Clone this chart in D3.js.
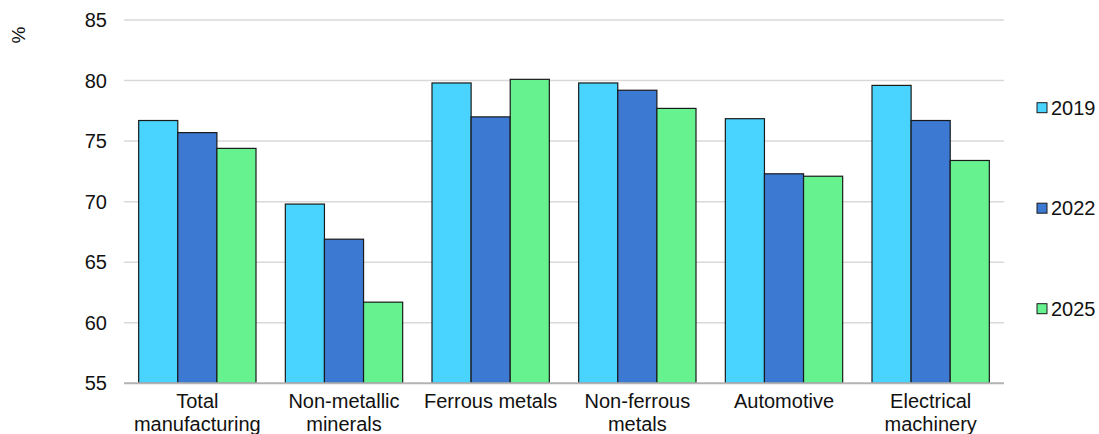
<!DOCTYPE html>
<html><head><meta charset="utf-8">
<script src="https://cdn.jsdelivr.net/npm/d3@7"></script>
<style>body{margin:0;background:#fff}svg{display:block;font-family:"Liberation Sans",Arial,sans-serif}</style>
</head><body><svg id="c" width="1099" height="434"></svg>
<script>
const categories = [["Total","manufacturing"],["Non-metallic","minerals"],["Ferrous metals"],["Non-ferrous","metals"],["Automotive"],["Electrical","machinery"]];
const seriesNames = ["2019","2022","2025"];
const v2019 = [76.7, 69.8, 79.8, 79.8, 76.85, 79.6];
const v2022 = [75.7, 66.9, 77.0, 79.2, 72.3, 76.7];
const v2025 = [74.4, 61.7, 80.1, 77.7, 72.1, 73.4];
const yTicks = [55,60,65,70,75,80,85];
const colors = ["#48D4FF","#3B79D2","#66F28F"];

const svg = d3.select("#c");
const L=124, R=1004, T=20, B=383.3;
const keys = categories.map((c,i)=>i);
const x = d3.scaleBand().domain(keys).range([L,R]).paddingInner(0.2).paddingOuter(0.1);
const xs = d3.scaleBand().domain(seriesNames).range([0,x.bandwidth()]);
const y = d3.scaleLinear().domain([55,85]).range([B,T]);
const values = [v2019,v2022,v2025];

// gridlines
svg.append("g").selectAll("line").data(yTicks.filter(t=>t>55)).join("line")
  .attr("x1",L).attr("x2",R).attr("y1",d=>y(d)).attr("y2",d=>y(d))
  .attr("stroke","#d9d9d9").attr("stroke-width",1.5);

// y labels
svg.append("g").selectAll("text").data(yTicks).join("text")
  .attr("x",107).attr("y",d=>y(d)+7).attr("text-anchor","end")
  .attr("font-size",20).attr("fill","#111").text(d=>d);

// bars
seriesNames.forEach((s,si)=>{
  svg.append("g").selectAll("rect").data(values[si]).join("rect")
    .attr("x",(d,i)=>x(i)+xs(s)).attr("width",xs.bandwidth())
    .attr("y",d=>y(d)).attr("height",d=>B-y(d))
    .attr("fill",colors[si]).attr("stroke","#1a1a1a").attr("stroke-width",1.2);
});

// baseline
svg.append("line").attr("x1",L).attr("x2",R).attr("y1",B).attr("y2",B)
  .attr("stroke","#b3b3b3").attr("stroke-width",2);

// x labels
const xl = svg.append("g").selectAll("text").data(categories).join("text")
  .attr("text-anchor","middle").attr("font-size",20).attr("fill","#111")
  .attr("transform",(d,i)=>`translate(${x(i)+x.bandwidth()/2},408)`);
xl.selectAll("tspan").data(d=>d).join("tspan")
  .attr("x",0).attr("dy",(d,j)=>j?23:0).text(d=>d);

// y unit
svg.append("text").attr("transform","translate(25,35) rotate(-90)")
  .attr("text-anchor","middle").attr("font-size",19).attr("fill","#111").text("%");

// legend
const lg = svg.append("g").selectAll("g").data(seriesNames).join("g")
  .attr("transform",(d,i)=>`translate(1037,${102.7+i*100.5})`);
lg.append("rect").attr("width",10).attr("height",10)
  .attr("fill",(d,i)=>colors[i]).attr("stroke","#1a1a1a").attr("stroke-width",1);
lg.append("text").attr("x",14).attr("y",12).attr("font-size",20).attr("fill","#111").text(d=>d);
</script></body></html>
